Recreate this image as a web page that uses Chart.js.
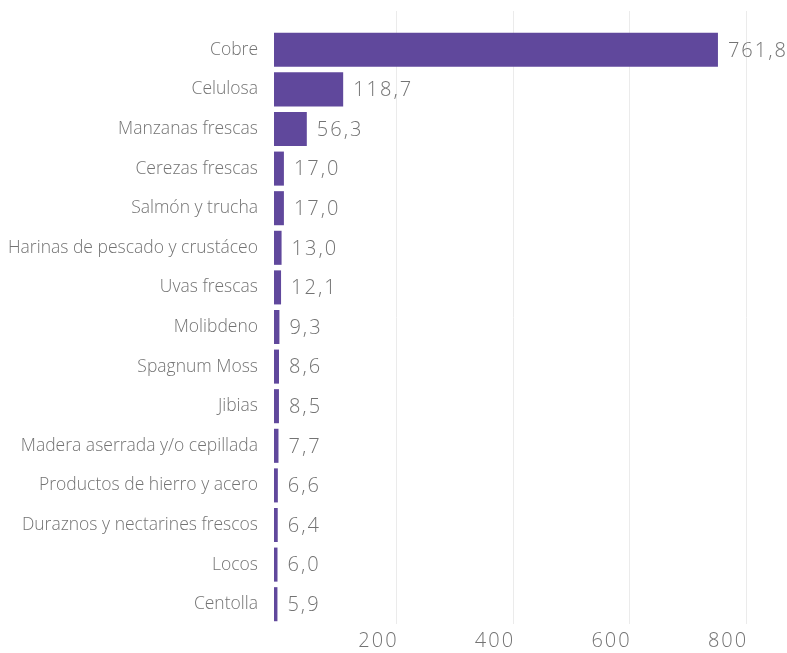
<!DOCTYPE html>
<html>
<head>
<meta charset="utf-8">
<script src="https://cdn.jsdelivr.net/npm/chart.js@4/dist/chart.umd.min.js"></script>
<style>
  html, body { margin: 0; padding: 0; background: #fff; }
  #wrap { width: 787px; height: 653px; position: relative; }
</style>
</head>
<body>
<div id="wrap"><canvas id="c"></canvas></div>
<script>
const categories = [
  "Cobre", "Celulosa", "Manzanas frescas", "Cerezas frescas", "Salmón y trucha",
  "Harinas de pescado y crustáceo", "Uvas frescas", "Molibdeno", "Spagnum Moss",
  "Jibias", "Madera aserrada y/o cepillada", "Productos de hierro y acero",
  "Duraznos y nectarines frescos", "Locos", "Centolla"
];
const values = [761.8, 118.7, 56.3, 17.0, 17.0, 13.0, 12.1, 9.3, 8.6, 8.5, 7.7, 6.6, 6.4, 6.0, 5.9];
const xTicks = [200, 400, 600, 800];

const FONT = '"Open Sans", "DejaVu Sans", sans-serif';
const BAR = 'rgb(96,72,156)';
const TXT = '#737373';
const fmt = v => v.toFixed(1).replace('.', ',');

const valueLabels = {
  id: 'valueLabels',
  afterDatasetsDraw(chart) {
    const ctx = chart.ctx;
    const meta = chart.getDatasetMeta(0);
    ctx.save();
    ctx.font = '300 20px ' + FONT;
    ctx.letterSpacing = '2px';
    ctx.fillStyle = TXT;
    ctx.textAlign = 'left';
    ctx.textBaseline = 'middle';
    meta.data.forEach((bar, i) => {
      ctx.fillText(fmt(values[i]), bar.x + 10, bar.y + 1);
    });
    ctx.restore();
  }
};

const axisStyle = {
  id: 'axisStyle',
  beforeDraw(chart) {
    const s = chart.scales.x;
    if (s && !s._styled) {
      const g = s.drawGrid, l = s.drawLabels;
      s.drawGrid = function (ca) {
        const ctx = this.ctx;
        ctx.save();
        ctx.translate(6, 0);
        g.call(this, Object.assign({}, ca, { top: ca.top - 19 }));
        ctx.restore();
      };
      s.drawLabels = function (ca) {
        const ctx = this.ctx;
        ctx.save();
        ctx.translate(8, 0);
        ctx.letterSpacing = '2px';
        l.call(this, ca);
        ctx.restore();
      };
      s._styled = true;
    }
  }
};

new Chart(document.getElementById('c'), {
  type: 'bar',
  data: {
    labels: categories,
    datasets: [{
      data: values,
      backgroundColor: BAR,
      borderWidth: 0,
      barPercentage: 0.86,
      categoryPercentage: 1.0
    }]
  },
  options: {
    indexAxis: 'y',
    responsive: true,
    maintainAspectRatio: false,
    animation: false,
    layout: { padding: { top: 30, right: 6, bottom: 0, left: 0 } },
    plugins: { legend: { display: false }, tooltip: { enabled: false } },
    scales: {
      x: {
        type: 'linear',
        min: 0,
        max: 870,
        afterBuildTicks: s => { s.ticks = xTicks.map(v => ({ value: v })); },
        afterFit: s => { s.height = 29; },
        grid: { color: '#ebebeb', lineWidth: 1, drawTicks: false },
        border: { display: false },
        ticks: {
          align: 'end',
          padding: 5,
          color: TXT,
          font: { family: FONT, size: 20, weight: 300 },
          callback: v => String(v)
        }
      },
      y: {
        type: 'category',
        grid: { display: false, drawTicks: false },
        border: { display: false },
        afterFit: s => { s.width = 274; },
        ticks: {
          padding: 16,
          color: TXT,
          font: { family: FONT, size: 17.5, weight: 300 }
        }
      }
    }
  },
  plugins: [valueLabels, axisStyle]
});
</script>
</body>
</html>
